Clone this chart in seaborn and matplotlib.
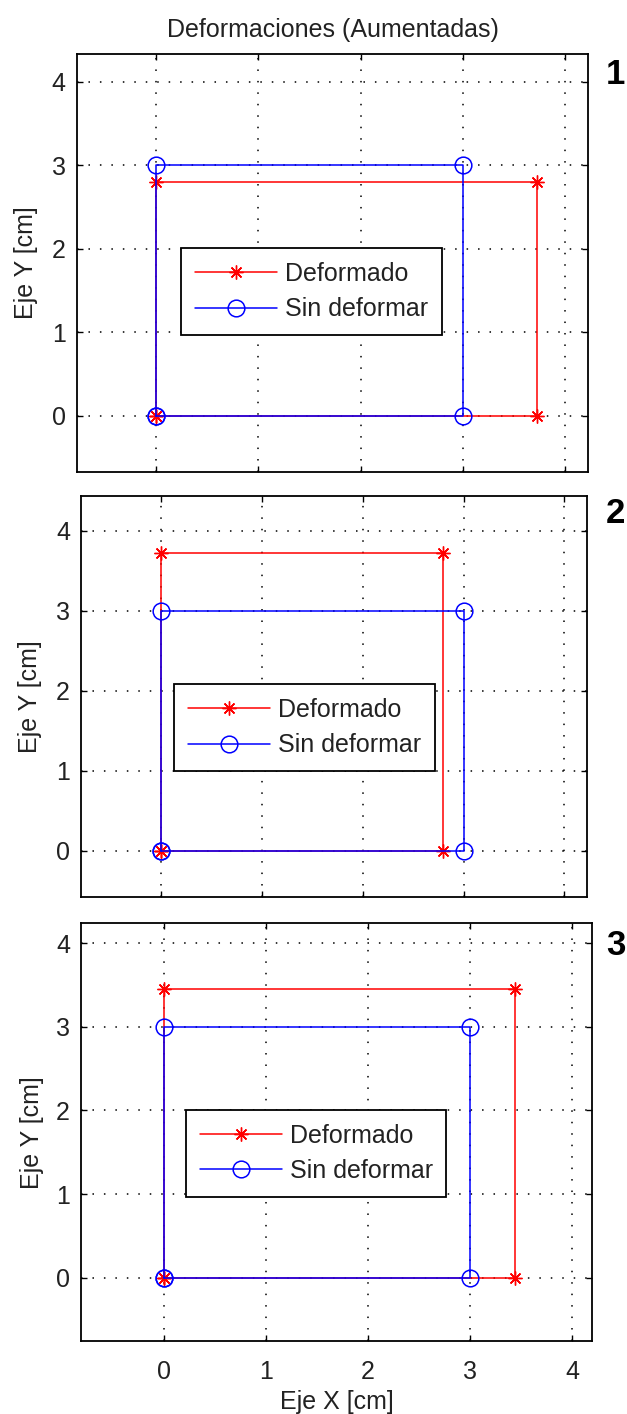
import matplotlib
matplotlib.use("Agg")
import matplotlib.pyplot as plt
import seaborn as sns

sns.set_theme(style="white")
plt.rcParams['font.family'] = ['Liberation Sans', 'DejaVu Sans']

# undeformed square, same in all three cases
orig_x = [0, 3, 3, 0, 0]
orig_y = [0, 0, 3, 3, 0]

# deformed shapes (amplified), one per case
def1_x = [0, 3.73, 3.73, 0, 0]
def1_y = [0, 0, 2.80, 2.80, 0]
def2_x = [0, 2.80, 2.80, 0, 0]
def2_y = [0, 0, 3.73, 3.73, 0]
def3_x = [0, 3.44, 3.44, 0, 0]
def3_y = [0, 0, 3.45, 3.45, 0]

ticks = [0, 1, 2, 3, 4]
case_names = ["1", "2", "3"]
deformed = [(def1_x, def1_y), (def2_x, def2_y), (def3_x, def3_y)]

boxes = [
    [0.1223, 0.6664, 0.8160, 0.2954],
    [0.1292, 0.3654, 0.8065, 0.2840],
    [0.1292, 0.0516, 0.8155, 0.2954],
]
xlims = [(-0.78, 4.23), (-0.79, 4.22), (-0.81, 4.20)]
ylims = [(-0.67, 4.33), (-0.58, 4.44), (-0.76, 4.24)]
leg_anchor = [(0.204, 0.327), (0.184, 0.314), (0.205, 0.345)]
num_y = [0.947, 0.637, 0.331]
ylab_x = [-0.100, -0.100, -0.096]

FS = 18

fig = plt.figure(figsize=(6.27, 14.14), dpi=100)
fig.patch.set_facecolor("white")

for i in range(3):
    ax = fig.add_axes(boxes[i])
    dx, dy = deformed[i]

    sns.lineplot(x=dx, y=dy, sort=False, estimator=None, ax=ax,
                 color="#ff0000", lw=1.1, marker=(8, 2, 0), markersize=10,
                 markeredgewidth=1.0, markeredgecolor="#ff0000",
                 label="Deformado")
    sns.lineplot(x=orig_x, y=orig_y, sort=False, estimator=None, ax=ax,
                 color="#0000ff", lw=1.1, marker="o", markersize=12,
                 markerfacecolor="none", markeredgecolor="#0000ff",
                 markeredgewidth=1.1, label="Sin deformar")

    ax.set_xlim(*xlims[i])
    ax.set_ylim(*ylims[i])
    ax.set_xticks(ticks)
    ax.set_yticks(ticks)
    ax.grid(True, color="black", linestyle=(0, (1, 6.5)), lw=1.1)
    ax.set_axisbelow(True)

    for sp in ax.spines.values():
        sp.set_color("black")
        sp.set_linewidth(1.3)
        sp.set_visible(True)

    ax.tick_params(direction="in", length=4, width=1, top=True, right=True,
                   bottom=True, left=True, labelsize=FS, pad=8, colors="black")
    ax.tick_params(axis="x", pad=14)
    for lab in ax.get_xticklabels() + ax.get_yticklabels():
        lab.set_color("#222222")
    if i < 2:
        ax.tick_params(labelbottom=False)
    else:
        ax.set_xlabel("Eje X [cm]", fontsize=FS, color="#222222", labelpad=4)

    ax.set_ylabel("Eje Y [cm]", fontsize=FS, color="#222222", va="center")
    ax.yaxis.set_label_coords(ylab_x[i], 0.5)

    leg = ax.legend(loc="lower left", bbox_to_anchor=leg_anchor[i],
                    borderaxespad=0, fontsize=FS, frameon=True, fancybox=False,
                    framealpha=1, edgecolor="black", numpoints=1,
                    handlelength=3.3, handletextpad=0.3, labelspacing=0.45,
                    borderpad=0.55)
    leg.get_frame().set_linewidth(1.3)
    for t in leg.get_texts():
        t.set_color("#222222")

    if i == 0:
        ax.set_title("Deformaciones (Aumentadas)", fontsize=FS, pad=12,
                     color="#222222")

    fig.text(0.9665, num_y[i], case_names[i], fontsize=25, fontweight="bold",
             ha="left", va="center", color="black")

fig.savefig("out.png", dpi=100, facecolor="white")
